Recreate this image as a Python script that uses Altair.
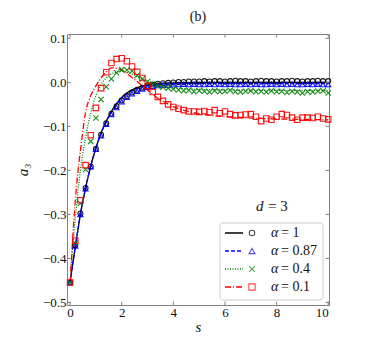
import altair as alt
import pandas as pd

# ---------------- data ----------------
SERIES = ["α = 1", "α = 0.87", "α = 0.4", "α = 0.1"]
LEG_VALUES = ["= 1", "= 0.87", "= 0.4", "= 0.1"]
COLORS = ["#000000", "#0000ff", "#008000", "#ff0000"]
DASHES = [[1, 0], [4, 2], [1, 1.5], [6, 2, 1, 2]]
XPATH = "M -1 -1 L 1 1 M -1 1 L 1 -1"
SHAPES = ["circle", "triangle-up", XPATH, "square"]
SIZES = [24, 30, 26, 34]

S_LINE = [0, 0.1, 0.2, 0.3, 0.4, 0.6, 0.8, 1.0, 1.2, 1.4, 1.6, 1.8, 2.0, 2.2,
          2.4, 2.6, 2.8, 3.0, 3.3, 3.6, 4.0, 4.5, 5, 6, 7, 8, 9, 10]
LINE_A1 = [-0.455, -0.413, -0.375, -0.336, -0.300, -0.240, -0.190, -0.149, -0.115,
           -0.088, -0.066, -0.048, -0.034, -0.024, -0.017, -0.012, -0.008, -0.006,
           -0.003, -0.002, -0.001, -0.0005, 0.0, 0.0, 0.0, 0.0, 0.0, 0.0]
LINE_A087 = [-0.455, -0.413, -0.375, -0.336, -0.300, -0.240, -0.190, -0.150, -0.116,
             -0.089, -0.068, -0.050, -0.036, -0.026, -0.019, -0.014, -0.010, -0.008,
             -0.005, -0.004, -0.003, -0.003, -0.003, -0.003, -0.003, -0.003, -0.003, -0.003]
LINE_A04 = [-0.455, -0.375, -0.310, -0.250, -0.200, -0.125, -0.070, -0.030, -0.005,
            0.010, 0.019, 0.024, 0.025, 0.023, 0.019, 0.013, 0.007, 0.001,
            -0.005, -0.010, -0.013, -0.015, -0.016, -0.017, -0.018, -0.018, -0.018, -0.018]
LINE_A01 = [-0.455, -0.355, -0.270, -0.205, -0.155, -0.068, -0.030, -0.008, 0.010,
            0.024, 0.033, 0.032, 0.028, 0.020, 0.011, 0.002, -0.008, -0.018,
            -0.032, -0.043, -0.055, -0.065, -0.071, -0.078, -0.081, -0.083, -0.084, -0.085]

S_MARK = [0.0, 0.2, 0.4, 0.6, 0.8, 1.0, 1.2, 1.4, 1.6, 1.8, 2.0, 2.2, 2.4, 2.6, 2.8,
          3.0, 3.2, 3.4, 3.6, 3.8, 4.0, 4.2, 4.4, 4.6, 4.8, 5.0, 5.2, 5.4, 5.6, 5.8,
          6.0, 6.2, 6.4, 6.6, 6.8, 7.0, 7.2, 7.4, 7.6, 7.8, 8.0, 8.2, 8.4, 8.6, 8.8,
          9.0, 9.2, 9.4, 9.6, 9.8, 10.0]
MARK_A1 = [-0.455, -0.370, -0.298, -0.240, -0.191, -0.151, -0.119, -0.093, -0.071,
           -0.054, -0.041, -0.031, -0.023, -0.017, -0.012, -0.008, -0.005, -0.003,
           -0.002, -0.001, 0.000,
           0.001, 0.001, 0.002, 0.002, 0.002, 0.003, 0.002, 0.003, 0.003, 0.002,
           0.003, 0.004, 0.003, 0.003, 0.002, 0.003, 0.004, 0.003, 0.003, 0.002,
           0.003, 0.003, 0.004, 0.003, 0.002, 0.003, 0.003, 0.004, 0.003, 0.003]
MARK_A087 = [-0.455, -0.372, -0.300, -0.242, -0.192, -0.152, -0.121, -0.095, -0.073,
             -0.057, -0.044, -0.034, -0.026, -0.020, -0.015, -0.011, -0.009, -0.007,
             -0.006, -0.006, -0.005,
             -0.005, -0.004, -0.005, -0.004, -0.005, -0.005, -0.004, -0.005, -0.004, -0.005,
             -0.004, -0.005, -0.005, -0.004, -0.005, -0.004, -0.005, -0.005, -0.004, -0.005,
             -0.004, -0.005, -0.004, -0.005, -0.005, -0.004, -0.005, -0.004, -0.005, -0.005]
MARK_A04 = [-0.455, -0.365, -0.275, -0.198, -0.134, -0.081, -0.039, -0.010, 0.008,
            0.022, 0.029, 0.028, 0.026, 0.016, 0.008, 0.002, -0.004, -0.008, -0.011,
            -0.013, -0.015,
            -0.017, -0.019, -0.018, -0.021, -0.019, -0.020, -0.022, -0.019, -0.021, -0.020,
            -0.018, -0.021, -0.022, -0.020, -0.019, -0.021, -0.020, -0.022, -0.019, -0.021,
            -0.020, -0.023, -0.020, -0.022, -0.024, -0.021, -0.022, -0.020, -0.019, -0.024]
MARK_A01 = [-0.455, -0.360, -0.268, -0.188, -0.120, -0.058, -0.013, 0.023, 0.044,
            0.053, 0.055, 0.048, 0.036, 0.024, 0.010, -0.008, -0.022, -0.033, -0.042,
            -0.050, -0.056,
            -0.060, -0.063, -0.066, -0.066, -0.067, -0.065, -0.068, -0.063, -0.070, -0.066,
            -0.072, -0.075, -0.074, -0.073, -0.072, -0.078, -0.088, -0.082, -0.085, -0.078,
            -0.072, -0.074, -0.080, -0.085, -0.080, -0.080, -0.081, -0.078, -0.082, -0.084]

XTICKS = [0, 2, 4, 6, 8, 10]
YTICKS = [-0.5, -0.4, -0.3, -0.2, -0.1, 0.0, 0.1]
TITLE = ["(b)"]
ANNOT_S, ANNOT_A = [7.2], [-0.28]

# ---------------- layout ----------------
W, H = 262, 271
FONT = "Liberation Serif, Times New Roman, serif"
TXT = "#111111"
FRAME = "#808080"
xscale = alt.Scale(domain=[-0.12, 10.03], nice=False, zero=False)
yscale = alt.Scale(domain=[-0.506, 0.11], nice=False, zero=False)

line_df = pd.concat([
    pd.DataFrame({"s": S_LINE, "a3": vals, "series": name, "order": i})
    for i, (name, vals) in enumerate(zip(SERIES, [LINE_A1, LINE_A087, LINE_A04, LINE_A01]))
])
mark_df = pd.concat([
    pd.DataFrame({"s": S_MARK, "a3": vals, "series": name, "order": i})
    for i, (name, vals) in enumerate(zip(SERIES, [MARK_A1, MARK_A087, MARK_A04, MARK_A01]))
])

color = alt.Color("series:N", scale=alt.Scale(domain=SERIES, range=COLORS), legend=None)

lines = alt.Chart(line_df).mark_line(strokeWidth=1.3, interpolate="monotone").encode(
    x=alt.X("s:Q", scale=xscale,
            axis=alt.Axis(values=XTICKS, format="d", ticks=False, tickSize=0, domain=False,
                          grid=False, labelFont=FONT, labelFontSize=13, labelPadding=1,
                          labelColor=TXT, title="s", titleFont=FONT, titleFontSize=15,
                          titleFontStyle="italic", titleFontWeight="normal",
                          titlePadding=0, titleColor=TXT)),
    y=alt.Y("a3:Q", scale=yscale,
            axis=alt.Axis(values=YTICKS, format=".1f", ticks=False, tickSize=0, domain=False,
                          grid=False, labelFont=FONT, labelFontSize=13, labelPadding=1,
                          labelColor=TXT, title="a₃", titleFont=FONT, titleFontSize=15,
                          titleFontStyle="italic", titleFontWeight="normal",
                          titlePadding=12, titleColor=TXT)),
    color=color,
    strokeDash=alt.StrokeDash("series:N", scale=alt.Scale(domain=SERIES, range=DASHES), legend=None),
    detail="series:N",
    order="s:Q",
)

points = alt.Chart(mark_df).mark_point(filled=False, strokeWidth=1.1, opacity=0.9).encode(
    x=alt.X("s:Q", scale=xscale),
    y=alt.Y("a3:Q", scale=yscale),
    color=color,
    shape=alt.Shape("series:N", scale=alt.Scale(domain=SERIES, range=SHAPES), legend=None),
    size=alt.Size("series:N", scale=alt.Scale(domain=SERIES, range=SIZES), legend=None),
    order=alt.Order("order:Q"),
)

# inward ticks on all four sides
xt_df = pd.DataFrame({"s": XTICKS})
yt_df = pd.DataFrame({"a3": YTICKS})
tick_layers = [
    alt.Chart(xt_df).mark_rule(color=FRAME).encode(x=alt.X("s:Q", scale=xscale), y=alt.value(H), y2=alt.value(H - 3.5)),
    alt.Chart(xt_df).mark_rule(color=FRAME).encode(x=alt.X("s:Q", scale=xscale), y=alt.value(0), y2=alt.value(3.5)),
    alt.Chart(yt_df).mark_rule(color=FRAME).encode(y=alt.Y("a3:Q", scale=yscale), x=alt.value(0), x2=alt.value(3.5)),
    alt.Chart(yt_df).mark_rule(color=FRAME).encode(y=alt.Y("a3:Q", scale=yscale), x=alt.value(W - 3.5), x2=alt.value(W)),
]

# title and annotation
title = alt.Chart(pd.DataFrame({"t": TITLE})).mark_text(
    font=FONT, fontSize=14, baseline="middle", fill=TXT, color=TXT).encode(
    text="t:N", x=alt.value(W / 2), y=alt.value(-17))

ann_df = pd.DataFrame({"s": ANNOT_S, "a3": ANNOT_A, "d": ["d"], "rest": ["= 3"]})
ann_d = alt.Chart(ann_df).mark_text(font=FONT, fontSize=15, fontStyle="italic", align="left",
                                     baseline="middle", fill=TXT, color=TXT).encode(
    x=alt.X("s:Q", scale=xscale), y=alt.Y("a3:Q", scale=yscale), text="d:N")
ann_r = alt.Chart(ann_df).mark_text(font=FONT, fontSize=15, align="left", dx=12,
                                     baseline="middle", fill=TXT, color=TXT).encode(
    x=alt.X("s:Q", scale=xscale), y=alt.Y("a3:Q", scale=yscale), text="rest:N")

# legend box
LX0, LX1, LY0, LY1 = 153, 256, 189, 266
ROW_Y = [199, 217, 235, 253]
legend_layers = [
    alt.Chart(pd.DataFrame({"k": [0]})).mark_rect(
        cornerRadius=3, fill="white", fillOpacity=0.85, stroke="#cccccc", strokeWidth=1).encode(
        x=alt.value(LX0), x2=alt.value(LX1), y=alt.value(LY0), y2=alt.value(LY1))
]
for i in range(4):
    one = pd.DataFrame({"a": ["α"], "v": [LEG_VALUES[i]]})
    legend_layers += [
        alt.Chart(one).mark_rule(color=COLORS[i], strokeWidth=1.3, strokeDash=DASHES[i]).encode(
            x=alt.value(158), x2=alt.value(176), y=alt.value(ROW_Y[i])),
        alt.Chart(one).mark_point(shape=SHAPES[i], filled=False, color=COLORS[i],
                                  size=SIZES[i] + 6, strokeWidth=1.1).encode(
            x=alt.value(185), y=alt.value(ROW_Y[i])),
        alt.Chart(one).mark_text(font=FONT, fontSize=14, fontStyle="italic", align="left",
                                 baseline="middle", fill=TXT, color=TXT).encode(
            text="a:N", x=alt.value(204), y=alt.value(ROW_Y[i])),
        alt.Chart(one).mark_text(font=FONT, fontSize=14, align="left",
                                 baseline="middle", fill=TXT, color=TXT).encode(
            text="v:N", x=alt.value(214), y=alt.value(ROW_Y[i])),
    ]

chart = alt.layer(lines, points, *tick_layers, title, ann_d, ann_r, *legend_layers).properties(
    width=W, height=H,
    autosize="none",
    padding={"left": 59, "top": 26, "right": 25, "bottom": 30},
    background="white",
).configure_view(stroke=FRAME, strokeWidth=1)

chart.save("out.html", embed_options={"renderer": "svg", "actions": False})
